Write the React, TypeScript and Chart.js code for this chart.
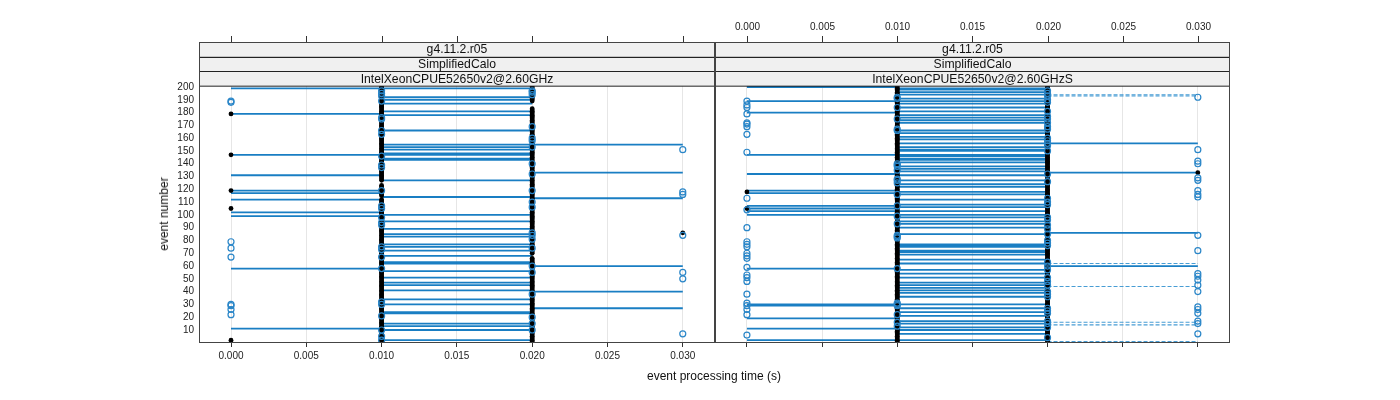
import React, { useEffect, useRef } from "react";
import { Chart, registerables } from "chart.js";

Chart.register(...registerables);

// ---- axis data ----
const X_TICKS = [0, 0.005, 0.01, 0.015, 0.02, 0.025, 0.03];
const Y_TICKS = [10, 20, 30, 40, 50, 60, 70, 80, 90, 100, 110, 120, 130, 140, 150, 160, 170, 180, 190, 200];
const X_MIN = -0.002125;
const X_MAX = 0.03214;
const Y_MIN = 0.6;
const Y_MAX = 200.8;

// processing-time columns (s)
const T0 = 0.0;
const T1 = 0.01;
const T2 = 0.02;
const T3 = 0.03;

const STRIPS_LEFT = ["g4.11.2.r05", "SimplifiedCalo", "IntelXeonCPUE52650v2@2.60GHz"];
const STRIPS_RIGHT = ["g4.11.2.r05", "SimplifiedCalo", "IntelXeonCPUE52650v2@2.60GHzS"];

// ---- left panel: event numbers ----
const L_SEG_01 = [199, 179, 147, 131, 119, 117, 112, 102, 99, 58, 11];
const L_SEG_12 = [199, 192, 190, 187, 181, 178, 166, 155, 153, 151, 148, 147, 144, 143, 127, 114, 100, 95, 89, 85, 83, 77, 75, 72, 68, 63, 62, 56, 51, 47, 45, 41, 34, 30, 24, 23, 15, 13, 10, 2];
const L_SEG_23 = [155, 133, 113, 60, 40, 27];

const L_BLACK_T0 = [2, 105, 119, 147, 179];
const L_BLUE_T0 = [22, 26, 29, 30, 67, 74, 79, 188, 189];
const L_BLACK_T1 = [1, 2, 3, 4, 5, 6, 7, 8, 9, 10, 11, 12, 13, 14, 15, 16, 17, 18, 19, 20, 21, 22, 23, 24, 25, 26, 27, 28, 29, 30, 31, 32, 33, 34, 35, 36, 37, 38, 39, 40, 41, 42, 43, 44, 45, 46, 47, 48, 49, 50, 51, 52, 53, 54, 55, 56, 57, 58, 59, 60, 61, 62, 63, 64, 65, 66, 67, 68, 69, 70, 71, 72, 73, 74, 75, 76, 77, 78, 79, 80, 81, 82, 83, 84, 85, 86, 87, 88, 89, 90, 91, 92, 93, 94, 95, 96, 97, 98, 99, 100, 101, 102, 103, 104, 105, 106, 107, 108, 109, 110, 111, 112, 115, 116, 117, 118, 119, 120, 121, 122, 123, 127, 128, 129, 130, 131, 132, 133, 134, 135, 136, 137, 138, 139, 140, 141, 142, 143, 144, 145, 146, 147, 148, 149, 150, 151, 152, 153, 154, 155, 156, 157, 158, 159, 160, 161, 162, 163, 164, 165, 166, 167, 168, 169, 170, 171, 172, 173, 174, 175, 176, 177, 178, 179, 180, 181, 182, 183, 184, 185, 186, 187, 188, 189, 190, 191, 192, 193, 194, 195, 196, 197, 198, 199, 200];
const L_BLUE_T1 = [2, 5, 10, 21, 30, 32, 58, 67, 73, 75, 92, 94, 98, 105, 107, 119, 137, 139, 146, 163, 166, 175, 176, 189, 193, 195, 197];
const L_BLACK_T2 = [1, 2, 3, 4, 5, 6, 7, 8, 9, 10, 11, 12, 13, 14, 15, 16, 17, 18, 19, 20, 21, 22, 23, 24, 25, 26, 27, 28, 29, 30, 31, 32, 33, 34, 35, 36, 37, 38, 39, 40, 41, 42, 43, 44, 45, 46, 47, 48, 49, 50, 51, 52, 53, 54, 55, 56, 57, 58, 59, 60, 61, 62, 63, 64, 65, 66, 70, 71, 72, 73, 74, 75, 76, 77, 78, 79, 80, 81, 82, 83, 84, 85, 86, 87, 88, 89, 90, 91, 92, 93, 94, 95, 96, 97, 98, 99, 100, 101, 102, 103, 104, 105, 106, 107, 108, 109, 110, 111, 112, 113, 114, 115, 116, 117, 118, 119, 120, 121, 122, 123, 124, 125, 126, 127, 128, 129, 130, 131, 132, 133, 134, 135, 136, 137, 138, 139, 140, 141, 142, 143, 144, 145, 146, 147, 148, 149, 150, 151, 152, 153, 154, 155, 156, 157, 158, 159, 160, 161, 162, 163, 164, 165, 166, 167, 168, 169, 170, 171, 172, 173, 174, 175, 176, 177, 178, 179, 180, 181, 182, 183, 189, 190, 191, 192, 193, 194, 195, 196, 197, 198, 199, 200];
const L_BLUE_T2 = [197, 196, 194, 169, 160, 158, 153, 140, 132, 119, 110, 106, 86, 84, 81, 74, 60, 55, 38, 20, 15, 10];
const L_BLACK_T3 = [86];
const L_BLUE_T3 = [7, 50, 55, 84, 116, 118, 151];

// ---- right panel: event numbers ----
const R_SEG_01 = [200, 189, 180, 147, 132, 119, 117, 107, 105, 103, 100, 58, 30, 29, 19, 11, 2];
const R_SEG_12 = [199, 198, 196, 194, 191, 189, 187, 184, 181, 178, 176, 174, 172, 166, 164, 161, 159, 156, 153, 151, 150, 147, 146, 144, 143, 141, 138, 136, 134, 131, 127, 124, 122, 118, 116, 112, 108, 106, 103, 100, 98, 95, 93, 90, 85, 77, 76, 75, 72, 71, 69, 65, 62, 57, 54, 51, 47, 45, 43, 41, 39, 36, 30, 27, 24, 21, 17, 15, 12, 10, 7, 2];
const R_SEG_23 = [156, 133, 86, 60];
const R_SEG_23_DASHED = [194, 193, 62, 44, 16, 14, 1];

const R_BLACK_T0 = [118, 105];
const R_BLUE_T0 = [189, 186, 184, 179, 172, 171, 169, 163, 149, 113, 104, 90, 79, 77, 75, 70, 68, 66, 59, 53, 51, 48, 38, 31, 29, 26, 22, 6];
const R_BLACK_T1 = [1, 2, 3, 4, 5, 6, 7, 8, 9, 10, 11, 12, 13, 14, 15, 16, 17, 18, 19, 20, 21, 22, 23, 24, 25, 26, 27, 28, 29, 30, 31, 32, 33, 34, 35, 36, 37, 38, 39, 40, 41, 42, 43, 44, 45, 46, 47, 48, 49, 50, 51, 52, 53, 54, 55, 56, 57, 58, 59, 60, 61, 62, 63, 64, 65, 66, 67, 68, 69, 70, 71, 72, 73, 74, 75, 76, 77, 78, 79, 80, 81, 82, 83, 84, 85, 86, 87, 88, 89, 90, 91, 92, 93, 94, 95, 96, 97, 98, 99, 100, 101, 102, 103, 104, 105, 106, 107, 108, 109, 110, 111, 112, 113, 114, 115, 116, 117, 118, 119, 120, 121, 122, 123, 124, 125, 126, 127, 128, 129, 130, 131, 132, 133, 134, 135, 136, 137, 138, 139, 140, 141, 142, 143, 144, 145, 146, 147, 148, 149, 150, 151, 152, 153, 154, 155, 156, 157, 158, 159, 160, 161, 162, 163, 164, 165, 166, 167, 168, 169, 170, 171, 172, 173, 174, 175, 176, 177, 178, 179, 180, 181, 182, 183, 184, 185, 186, 187, 188, 189, 190, 191, 192, 193, 194, 195, 196, 197, 198, 199, 200];
const R_BLUE_T1 = [192, 191, 184, 175, 167, 166, 140, 139, 138, 135, 128, 127, 125, 116, 107, 99, 93, 84, 83, 82, 58, 31, 30, 29, 22, 16, 13];
const R_BLACK_T2 = [1, 2, 3, 4, 5, 6, 7, 8, 9, 10, 11, 12, 13, 14, 15, 16, 17, 18, 19, 20, 21, 22, 23, 24, 25, 26, 27, 28, 29, 30, 31, 32, 33, 34, 35, 36, 37, 38, 39, 40, 41, 42, 43, 44, 45, 46, 47, 48, 49, 50, 51, 52, 53, 54, 55, 56, 57, 58, 59, 60, 63, 64, 65, 66, 67, 68, 69, 70, 71, 72, 73, 74, 75, 76, 77, 78, 79, 80, 81, 82, 83, 84, 85, 86, 87, 88, 89, 90, 91, 92, 93, 94, 95, 96, 97, 98, 99, 100, 101, 102, 103, 104, 105, 106, 107, 108, 109, 110, 111, 112, 113, 114, 115, 116, 117, 118, 119, 120, 121, 122, 123, 124, 125, 126, 127, 128, 129, 130, 131, 132, 133, 134, 135, 136, 137, 138, 139, 140, 141, 142, 143, 144, 145, 146, 147, 148, 149, 150, 151, 152, 153, 154, 155, 156, 157, 158, 159, 160, 161, 162, 163, 164, 165, 166, 167, 168, 169, 170, 171, 172, 173, 174, 175, 176, 177, 178, 179, 180, 181, 182, 183, 184, 185, 186, 187, 188, 191, 192, 193, 194, 195, 196, 197, 198, 199, 200];
const R_BLUE_T2 = [197, 195, 193, 190, 188, 181, 177, 175, 172, 169, 167, 160, 158, 156, 154, 150, 132, 126, 113, 110, 108, 98, 96, 92, 89, 85, 80, 78, 76, 63, 60, 57, 51, 48, 45, 40, 38, 36, 27, 25, 23, 17, 15, 12, 4];
const R_BLACK_T3 = [133];
const R_BLUE_T3 = [192, 151, 142, 140, 129, 127, 119, 116, 114, 84, 72, 54, 52, 49, 45, 40, 28, 26, 23, 17, 15, 7];

// ---- styles ----
const FONT = "'Liberation Sans', Arial, Helvetica, sans-serif";
const LINE_BLUE = "rgba(0,112,188,0.9)";
const DASH_BLUE = "rgba(40,140,205,0.85)";
const CIRCLE_BLUE = "#2a86c8";

type Pt = { x: number; y: number | null };

function segs(ys: number[], x0: number, x1: number): Pt[] {
  const out: Pt[] = [];
  ys.forEach((y) => {
    out.push({ x: x0, y }, { x: x1, y }, { x: x1, y: null });
  });
  return out;
}
function pts(ys: number[], x: number): Pt[] {
  return ys.map((y) => ({ x, y }));
}

type PanelData = {
  solid: Pt[];
  dashed: Pt[];
  black: Pt[];
  blue: Pt[];
};

const LEFT: PanelData = {
  solid: [...segs(L_SEG_01, T0, T1), ...segs(L_SEG_12, T1, T2), ...segs(L_SEG_23, T2, T3)],
  dashed: [],
  black: [...pts(L_BLACK_T0, T0), ...pts(L_BLACK_T1, T1), ...pts(L_BLACK_T2, T2), ...pts(L_BLACK_T3, T3)],
  blue: [...pts(L_BLUE_T0, T0), ...pts(L_BLUE_T1, T1), ...pts(L_BLUE_T2, T2), ...pts(L_BLUE_T3, T3)],
};
const RIGHT: PanelData = {
  solid: [...segs(R_SEG_01, T0, T1), ...segs(R_SEG_12, T1, T2), ...segs(R_SEG_23, T2, T3)],
  dashed: segs(R_SEG_23_DASHED, T2, T3),
  black: [...pts(R_BLACK_T0, T0), ...pts(R_BLACK_T1, T1), ...pts(R_BLACK_T2, T2), ...pts(R_BLACK_T3, T3)],
  blue: [...pts(R_BLUE_T0, T0), ...pts(R_BLUE_T1, T1), ...pts(R_BLUE_T2, T2), ...pts(R_BLUE_T3, T3)],
};

function makePanelPlugin(strips: string[], topLabels: boolean) {
  return {
    id: "panelDeco",
    afterDraw(chart: any) {
      const ctx = chart.ctx as CanvasRenderingContext2D;
      const a = chart.chartArea;
      const xs = chart.scales.x;
      ctx.save();
      // strips
      const stripTop = 42;
      const h = (a.top - stripTop) / strips.length;
      strips.forEach((s, i) => {
        const y0 = stripTop + i * h;
        ctx.fillStyle = "#f0f0f0";
        ctx.fillRect(a.left, y0, a.right - a.left, h);
        ctx.strokeStyle = "#222";
        ctx.lineWidth = 1;
        ctx.strokeRect(a.left + 0.5, Math.round(y0) + 0.5, a.right - a.left - 1, h);
        ctx.fillStyle = "#111";
        ctx.font = `12.2px ${FONT}`;
        ctx.textAlign = "center";
        ctx.textBaseline = "middle";
        ctx.fillText(s, (a.left + a.right) / 2, y0 + h / 2 + 0.5);
      });
      // top ticks
      ctx.strokeStyle = "#333";
      ctx.lineWidth = 1;
      X_TICKS.forEach((v) => {
        const px = Math.round(xs.getPixelForValue(v)) + 0.5;
        ctx.beginPath();
        ctx.moveTo(px, stripTop - 6);
        ctx.lineTo(px, stripTop);
        ctx.stroke();
        if (topLabels) {
          ctx.fillStyle = "#222";
          ctx.font = `10px ${FONT}`;
          ctx.textAlign = "center";
          ctx.textBaseline = "middle";
          ctx.fillText(v.toFixed(3), px, 27);
        }
      });
      // panel border
      ctx.strokeStyle = "#444";
      ctx.lineWidth = 1;
      ctx.strokeRect(a.left + 0.5, stripTop + 0.5, a.right - a.left - 1, a.bottom - stripTop);
      ctx.restore();
    },
  };
}

function buildConfig(data: PanelData, side: "left" | "right"): any {
  const isLeft = side === "left";
  const padding = isLeft
    ? { left: 159, right: 685, top: 86, bottom: 28 }
    : { left: 715, right: 170, top: 86, bottom: 28 };
  return {
    type: "scatter",
    data: {
      datasets: [
        {
          data: data.blue,
          pointRadius: 3,
          pointBorderWidth: 1.2,
          pointBackgroundColor: "rgba(0,0,0,0)",
          pointBorderColor: CIRCLE_BLUE,
          showLine: false,
          order: 1,
        },
        {
          data: data.black,
          pointRadius: 2.4,
          pointBorderWidth: 0,
          pointBackgroundColor: "#000",
          pointBorderColor: "#000",
          showLine: false,
          order: 2,
        },
        {
          data: data.dashed,
          showLine: true,
          spanGaps: false,
          pointRadius: 0,
          borderColor: DASH_BLUE,
          borderWidth: 1.1,
          borderDash: [4, 2],
          order: 3,
        },
        {
          data: data.solid,
          showLine: true,
          spanGaps: false,
          pointRadius: 0,
          borderColor: LINE_BLUE,
          borderWidth: 1.8,
          order: 4,
        },
      ],
    },
    options: {
      animation: false,
      responsive: false,
      maintainAspectRatio: false,
      events: [],
      layout: { padding },
      plugins: { legend: { display: false }, tooltip: { enabled: false }, title: { display: false } },
      scales: {
        x: {
          type: "linear",
          position: "bottom",
          min: X_MIN,
          max: X_MAX,
          afterBuildTicks: (scale: any) => {
            scale.ticks = X_TICKS.map((v) => ({ value: v }));
          },
          afterFit: (scale: any) => {
            scale.height = 30;
          },
          ticks: {
            autoSkip: false,
            maxRotation: 0,
            padding: 3,
            color: isLeft ? "#222" : "rgba(0,0,0,0)",
            font: { family: FONT, size: 10 },
            callback: (v: number) => Number(v).toFixed(3),
          },
          grid: {
            color: "#e6e6e6",
            lineWidth: 1,
            drawTicks: true,
            tickLength: 5,
            tickColor: "#333",
          },
          border: { display: false },
        },
        y: {
          type: "linear",
          display: isLeft,
          min: Y_MIN,
          max: Y_MAX,
          afterBuildTicks: (scale: any) => {
            scale.ticks = Y_TICKS.map((v) => ({ value: v }));
          },
          afterFit: (scale: any) => {
            scale.width = isLeft ? 40 : 0;
          },
          ticks: {
            autoSkip: false,
            padding: 5,
            color: "#222",
            font: { family: FONT, size: 10 },
          },
          grid: { display: false, drawTicks: false },
          border: { display: false },
        },
      },
    },
    plugins: [makePanelPlugin(isLeft ? STRIPS_LEFT : STRIPS_RIGHT, !isLeft)],
  };
}

export default function App() {
  const leftRef = useRef<HTMLCanvasElement | null>(null);
  const rightRef = useRef<HTMLCanvasElement | null>(null);

  useEffect(() => {
    if (!leftRef.current || !rightRef.current) return;
    const c1 = new Chart(leftRef.current, buildConfig(LEFT, "left"));
    const c2 = new Chart(rightRef.current, buildConfig(RIGHT, "right"));
    return () => {
      c1.destroy();
      c2.destroy();
    };
  }, []);

  const canvasStyle: React.CSSProperties = {
    position: "absolute",
    left: 0,
    top: 0,
    width: 1400,
    height: 400,
  };

  return (
    <div
      style={{
        position: "fixed",
        left: 0,
        top: 0,
        width: 1400,
        height: 400,
        background: "#fff",
        overflow: "hidden",
        fontFamily: FONT,
      }}
    >
      <canvas ref={leftRef} width={1400} height={400} style={canvasStyle} />
      <canvas ref={rightRef} width={1400} height={400} style={canvasStyle} />
      <div
        style={{
          position: "absolute",
          left: 614,
          width: 200,
          top: 369,
          textAlign: "center",
          fontSize: 12,
          color: "#111",
          whiteSpace: "nowrap",
        }}
      >
        event processing time (s)
      </div>
      <div
        style={{
          position: "absolute",
          left: 164,
          top: 214,
          transform: "translate(-50%, -50%) rotate(-90deg)",
          fontSize: 12,
          color: "#111",
          whiteSpace: "nowrap",
        }}
      >
        event number
      </div>
    </div>
  );
}
